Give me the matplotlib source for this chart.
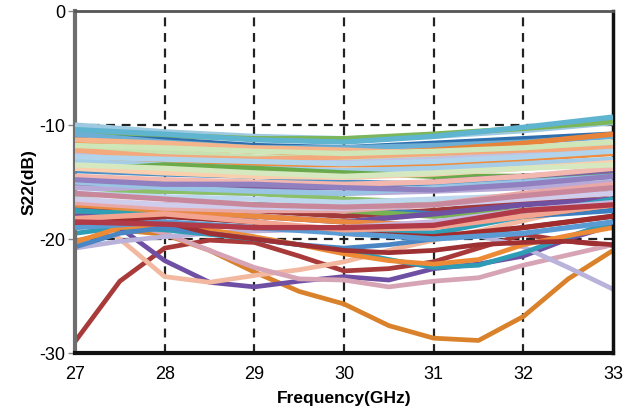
import matplotlib
matplotlib.use("Agg")
import matplotlib.pyplot as plt

plt.rcParams['font.family'] = ['Liberation Sans', 'DejaVu Sans']

# Frequency grids (GHz)
freq_fine = [27, 27.5, 28, 28.5, 29, 29.5, 30, 30.5, 31, 31.5, 32, 32.5, 33]
freq_coarse = [27, 28, 29, 30, 31, 32, 33]

# Dense band of S22 curves (dB) sampled at integer GHz
band_colors = [
    '#9ecae1', '#7cb65a', '#5fb4d0', '#2f6fae', '#6baed6', '#e8833a', '#f5b48a',
    '#c7e2b0', '#c3c0e0', '#f08c3c', '#a6cde8', '#6aaa4a', '#8064a2', '#4a90c8',
    '#f2b8b0', '#f9cfae', '#b8aad8', '#8cc068', '#bcd7ee', '#a33a3a', '#3c7fc0',
    '#77b255', '#7050a0', '#ea8a40', '#e8a8a8', '#d0ccec', '#2f9fb8', '#9ac4e4',
    '#f3a97c', '#d5e8c0', '#c8b8e0', '#a02c2c', '#5a9bd4', '#f2a490', '#b0d4ec',
    '#9080c0', '#b03a48', '#c8879a', '#cfe6b8',
]
band_values = [
    [-10.0, -10.6, -11.0, -11.2, -11.0, -10.5, -9.8],
    [-10.6, -10.9, -11.2, -11.2, -10.8, -10.3, -9.7],
    [-10.4, -10.8, -11.3, -11.5, -11.0, -10.2, -9.3],
    [-11.0, -11.3, -11.8, -12.0, -11.6, -11.2, -10.8],
    [-10.8, -11.5, -12.0, -12.0, -11.8, -11.5, -11.0],
    [-11.5, -12.0, -12.3, -12.6, -12.2, -11.6, -10.8],
    [-11.3, -11.6, -12.0, -12.2, -12.5, -12.0, -11.5],
    [-12.0, -12.4, -12.8, -13.0, -12.8, -12.4, -12.0],
    [-12.5, -12.8, -13.2, -13.3, -13.0, -12.5, -11.8],
    [-13.0, -13.2, -13.5, -13.5, -13.5, -13.0, -12.5],
    [-13.2, -13.5, -13.8, -14.0, -13.8, -13.4, -13.0],
    [-14.0, -13.5, -13.8, -14.2, -14.5, -14.5, -14.2],
    [-15.2, -15.0, -15.5, -15.5, -15.0, -14.5, -14.0],
    [-14.0, -14.3, -14.5, -15.0, -15.2, -15.0, -14.5],
    [-14.5, -14.8, -15.0, -15.2, -15.0, -14.5, -13.8],
    [-13.8, -14.2, -14.5, -14.6, -14.3, -13.8, -13.3],
    [-15.5, -15.8, -16.0, -16.0, -15.8, -15.5, -15.0],
    [-16.2, -15.8, -16.0, -16.5, -16.8, -16.5, -16.0],
    [-16.0, -16.3, -16.5, -16.8, -16.5, -16.2, -15.8],
    [-17.5, -17.0, -17.5, -18.0, -17.5, -16.8, -16.0],
    [-17.0, -17.2, -17.0, -17.3, -17.8, -18.0, -17.5],
    [-17.8, -17.5, -17.0, -17.5, -18.0, -17.5, -16.8],
    [-18.0, -17.8, -18.0, -18.5, -17.8, -17.0, -16.5],
    [-17.0, -17.5, -18.0, -18.5, -18.8, -18.0, -17.0],
    [-16.8, -17.3, -17.5, -17.5, -17.0, -16.0, -15.2],
    [-16.5, -17.0, -17.2, -17.3, -17.0, -16.5, -16.0],
    [-17.5, -18.0, -18.5, -19.5, -19.5, -18.0, -16.5],
    [-15.0, -15.5, -15.8, -16.0, -15.5, -15.0, -14.5],
    [-12.2, -12.8, -13.0, -12.8, -12.5, -12.2, -12.0],
    [-13.5, -13.8, -14.2, -14.5, -14.2, -13.8, -13.5],
    [-18.5, -18.6, -19.0, -19.0, -18.5, -17.5, -16.8],
    [-18.8, -18.0, -18.5, -19.5, -19.8, -19.0, -18.0],
    [-19.0, -18.5, -19.0, -19.5, -20.0, -19.5, -18.5],
    [-18.2, -17.8, -18.5, -19.2, -19.0, -18.0, -17.0],
    [-12.8, -13.0, -13.2, -13.4, -13.2, -12.8, -12.3],
    [-14.8, -15.2, -15.2, -15.5, -15.7, -15.2, -14.5],
    [-18.5, -18.7, -19.0, -19.0, -18.8, -17.5, -17.0],
    [-16.0, -16.5, -17.0, -17.2, -17.0, -16.2, -15.5],
    [-11.8, -12.0, -12.3, -12.5, -12.3, -12.0, -11.5],
]

# Distinct lower curves (dB) sampled every 0.5 GHz
low_colors = ['#a83a3a', '#d9822b', '#6f4fa3', '#f3b8a0', '#d6a4b4',
              '#b9b2da', '#2e9cb4', '#ec8a36', '#4a86c4', '#9e2f33']
low_values = [
    [-29.0, -23.7, -20.8, -20.1, -20.3, -21.5, -22.8, -22.6, -22.0, -20.8, -19.6, -20.2, -20.6],
    [-20.2, -19.2, -19.6, -21.0, -22.9, -24.6, -25.7, -27.6, -28.7, -28.9, -26.8, -23.5, -21.0],
    [-17.7, -19.0, -21.9, -23.8, -24.2, -23.7, -23.3, -23.6, -22.6, -22.2, -21.5, -20.0, -18.8],
    [-17.2, -20.0, -23.3, -23.8, -23.2, -22.7, -22.0, -21.0, -20.1, -19.3, -18.4, -17.5, -16.8],
    [-18.0, -18.5, -19.5, -21.0, -22.5, -23.5, -23.6, -24.2, -23.7, -23.4, -22.3, -21.4, -20.5],
    [-20.8, -20.2, -19.8, -19.5, -19.3, -19.2, -19.2, -19.3, -19.4, -19.7, -20.7, -22.5, -24.4],
    [-19.5, -19.0, -19.2, -19.6, -20.0, -20.5, -21.0, -21.8, -22.5, -22.3, -21.2, -19.8, -18.5],
    [-20.3, -19.0, -18.8, -19.2, -19.8, -20.5, -21.3, -21.9, -22.2, -21.8, -20.5, -19.7, -19.0],
    [-20.7, -19.5, -19.0, -19.5, -20.0, -20.5, -20.8, -20.5, -20.0, -19.5, -19.0, -18.5, -18.0],
    [-18.8, -18.2, -18.5, -19.5, -20.0, -20.5, -21.0, -21.2, -21.0, -20.5, -20.3, -20.2, -20.5],
]

x_ticks = [27, 28, 29, 30, 31, 32, 33]
y_ticks = [-30, -20, -10, 0]

fig = plt.figure(figsize=(6.23, 4.12), dpi=100)
ax = fig.add_axes([0.1204, 0.1432, 0.8636, 0.8301])

for vals, c in zip(low_values, low_colors):
    ax.plot(freq_fine, vals, color=c, lw=3.4, solid_capstyle='butt', zorder=2)
for vals, c in zip(band_values, band_colors):
    ax.plot(freq_coarse, vals, color=c, lw=3.8, solid_capstyle='butt', zorder=3)

ax.set_xlim(27, 33)
ax.set_ylim(-30, 0)
ax.set_xticks(x_ticks)
ax.set_yticks(y_ticks)
ax.set_xticklabels([str(t) for t in x_ticks])
ax.set_yticklabels([str(t) for t in y_ticks])

for gx in [28, 29, 30, 31, 32]:
    ax.axvline(gx, color='#222222', lw=1.6, ls=(0, (4, 3)), zorder=1)
for gy in [-10, -20]:
    ax.axhline(gy, color='#222222', lw=1.6, ls=(0, (4, 3)), zorder=1)

ax.spines['left'].set_color('#6e6e6e')
ax.spines['left'].set_linewidth(3)
ax.spines['bottom'].set_color('#111111')
ax.spines['bottom'].set_linewidth(3)
ax.spines['top'].set_color('#555555')
ax.spines['top'].set_linewidth(2)
ax.spines['right'].set_color('#111111')
ax.spines['right'].set_linewidth(2.5)

ax.tick_params(axis='y', length=5, width=1, color='#888888', labelsize=13, pad=2)
ax.tick_params(axis='x', length=0, labelsize=13, pad=9)

ax.set_xlabel('Frequency(GHz)', fontsize=12.5, fontweight='bold', labelpad=6)
ax.set_ylabel('S22(dB)', fontsize=12.5, fontweight='bold', labelpad=2)

fig.savefig('out.png', dpi=100)
